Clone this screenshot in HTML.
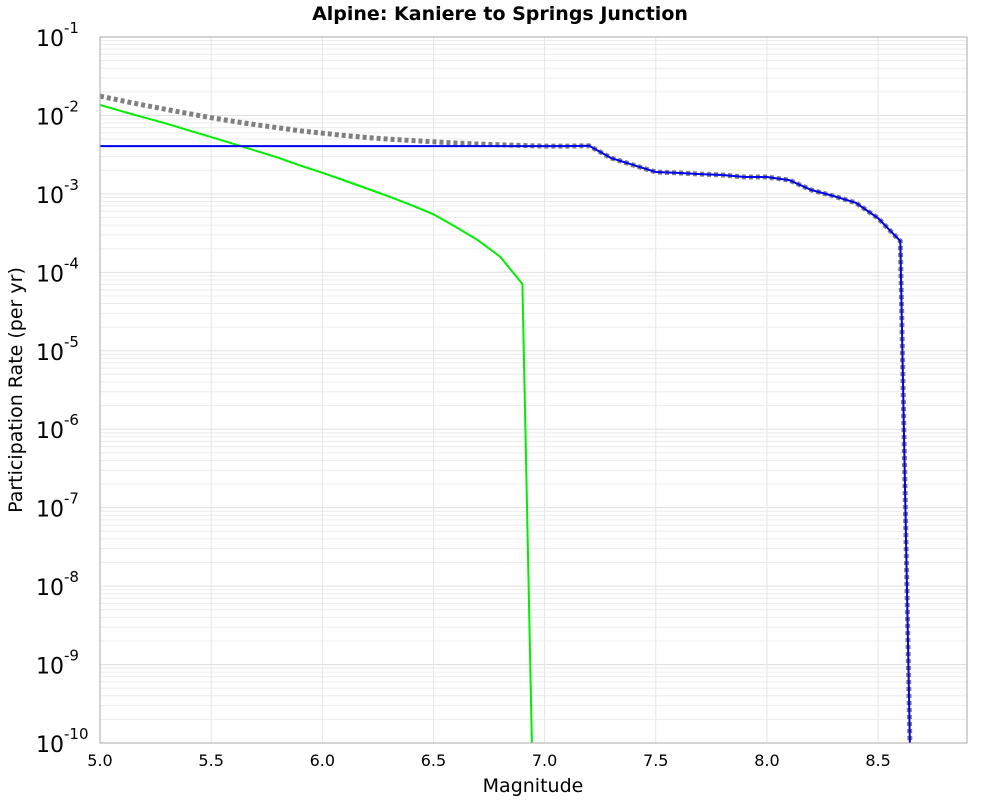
<!DOCTYPE html>
<html><head><meta charset="utf-8"><style>
body{margin:0;background:#fff;font-family:"Liberation Sans","DejaVu Sans",sans-serif}
svg text{font-family:"DejaVu Sans","Liberation Sans",sans-serif}
</style></head><body>
<svg id="chart" width="1000" height="800">
<rect width="1000" height="800" fill="#fff"/>
<text x="500" y="20" text-anchor="middle" font-size="19" font-weight="bold">Alpine: Kaniere to Springs Junction</text>
<g id="grid"></g>
<g id="lines"></g>
<rect x="100" y="37" width="867" height="706" fill="none" stroke="#aaa"/>
<g id="axes"></g>
<text x="533" y="792" text-anchor="middle" font-size="19">Magnitude</text>
<text transform="translate(22,390) rotate(-90)" text-anchor="middle" font-size="19">Participation Rate (per yr)</text>
</svg>
<script>
const blueMag=[5.0,5.1,5.2,5.3,5.4,5.5,5.6,5.7,5.8,5.9,6.0,6.1,6.2,6.3,6.4,6.5,6.6,6.7,6.8,6.9,7.0,7.1,7.2,7.3,7.4,7.5,7.6,7.7,7.8,7.9,8.0,8.1,8.2,8.3,8.4,8.5,8.6,8.65];
const blueRate=[4.07e-3,4.07e-3,4.07e-3,4.07e-3,4.07e-3,4.07e-3,4.07e-3,4.07e-3,4.07e-3,4.07e-3,4.07e-3,4.07e-3,4.07e-3,4.07e-3,4.07e-3,4.07e-3,4.07e-3,4.07e-3,4.07e-3,4.07e-3,4.07e-3,4.07e-3,4.1e-3,2.86e-3,2.33e-3,1.9e-3,1.85e-3,1.79e-3,1.74e-3,1.64e-3,1.64e-3,1.5e-3,1.12e-3,9.4e-4,7.7e-4,4.9e-4,2.5e-4,1e-11];
const greenMag=[5.0,5.1,5.2,5.3,5.4,5.5,5.6,5.7,5.8,5.9,6.0,6.1,6.2,6.3,6.4,6.5,6.6,6.7,6.8,6.9,6.95];
const greenRate=[1.36e-2,1.13e-2,9.4e-3,7.85e-3,6.45e-3,5.3e-3,4.35e-3,3.55e-3,2.9e-3,2.3e-3,1.86e-3,1.48e-3,1.17e-3,9.3e-4,7.2e-4,5.5e-4,3.8e-4,2.57e-4,1.58e-4,7.1e-5,1e-11];
const xTicks=["5.0","5.5","6.0","6.5","7.0","7.5","8.0","8.5"];
const yExps=[-1,-2,-3,-4,-5,-6,-7,-8,-9,-10];
const X0=100,X1=967,Y0=37,Y1=743,xmin=5,xmax=8.9,lmax=-1,lmin=-10;
const sx=m=>X0+(m-xmin)/(xmax-xmin)*(X1-X0);
const sy=v=>Y0+(lmax-Math.log10(v))/(lmax-lmin)*(Y1-Y0);
const NS="http://www.w3.org/2000/svg";
function mk(p,t,a){const e=document.createElementNS(NS,t);for(const k in a)e.setAttribute(k,a[k]);p.appendChild(e);return e;}
const grid=document.getElementById('grid'),axes=document.getElementById('axes'),lines=document.getElementById('lines');
for(let e=-10;e<-1;e++){for(let k=2;k<=9;k++){const y=sy(k*Math.pow(10,e));
const l=mk(grid,'line',{x1:X0,x2:X1,y1:y,y2:y,stroke:'#ececec','stroke-width':1});

}}
yExps.forEach(e=>{const y=sy(Math.pow(10,e));
const l=mk(grid,'line',{x1:X0,x2:X1,y1:y,y2:y,stroke:'#e0e0e0','stroke-width':1});


const t=mk(axes,'text',{x:36,y:y+9,'font-size':22});


t.textContent='10';const s=mk(t,'tspan',{dy:-13,'font-size':15});s.textContent=String(e);});
xTicks.forEach(s=>{const x=sx(parseFloat(s));
const l=mk(grid,'line',{x1:x,x2:x,y1:Y0,y2:Y1,stroke:'#e6e6e6','stroke-width':1});


const t=mk(axes,'text',{x:x,y:766,'text-anchor':'middle','font-size':16});


t.textContent=s;});
function pts(ms,vs){return ms.map((m,i)=>sx(m).toFixed(1)+','+sy(vs[i]).toFixed(1)).join(' ');}
const grayRate=blueMag.map((m,i)=>{const j=greenMag.findIndex(g=>Math.abs(g-m)<1e-9);return blueRate[i]+(j>=0&&greenMag[j]<6.95?greenRate[j]:0);});
const clip=mk(document.getElementById('chart'),'clipPath',{id:'pc'});mk(clip,'rect',{x:X0,y:Y0,width:X1-X0,height:Y1-Y0});
lines.setAttribute('clip-path','url(#pc)');
const g=mk(lines,'polyline',{points:pts(blueMag,grayRate),fill:'none',stroke:'#808080','stroke-width':5,'stroke-dasharray':'4,3'});


const gr=mk(lines,'polyline',{points:pts(greenMag,greenRate),fill:'none',stroke:'#00ee00','stroke-width':2});


const b=mk(lines,'polyline',{points:pts(blueMag,blueRate),fill:'none',stroke:'#0000ee','stroke-width':2});


</script>
</body></html>
